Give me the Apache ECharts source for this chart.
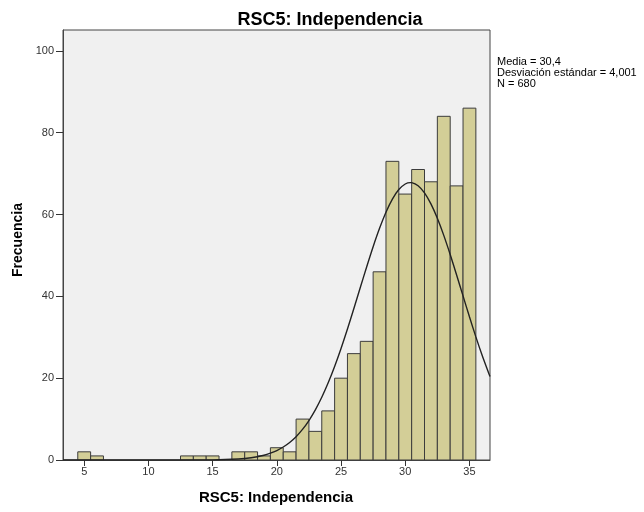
<!DOCTYPE html>
<html><head><meta charset="utf-8">
<script src="https://cdn.jsdelivr.net/npm/echarts@6/dist/echarts.min.js"></script>
<style>html,body{margin:0;padding:0;background:#fff}#c{width:644px;height:512px}</style>
</head><body><div id="c"></div>
<script>
// Histogram bins (centered on integer scores, width 1)
const binCenters = [5, 6, 13, 14, 15, 17, 18, 19, 20, 21, 22, 23, 24, 25, 26, 27, 28, 29, 30, 31, 32, 33, 34, 35];
const frequencies = [2, 1, 1, 1, 1, 2, 2, 1, 3, 2, 10, 7, 12, 20, 26, 29, 46, 73, 65, 71, 68, 84, 67, 86];
// Normal curve points
const curveX = [3.35, 10, 15, 17, 18, 19, 19.5, 20, 20.5, 21, 21.5, 22, 22.5, 23, 23.5, 24, 24.5, 25, 25.5, 26, 26.5, 27, 27.5, 28, 28.5, 29, 29.5, 30, 30.4, 30.5, 31, 31.5, 32, 32.5, 33, 33.5, 34, 34.5, 35, 35.5, 36, 36.5, 36.6];
const curveY = [0, 0, 0.04, 0.25, 0.56, 1.17, 1.66, 2.31, 3.17, 4.29, 5.71, 7.48, 9.65, 12.26, 15.32, 18.86, 22.86, 27.27, 32.03, 37.03, 42.16, 47.25, 52.14, 56.63, 60.57, 63.77, 66.10, 67.46, 67.8, 67.78, 67.04, 65.29, 62.59, 59.07, 54.90, 50.22, 45.23, 40.11, 35.01, 30.09, 25.46, 21.21, 20.41];
const xTicks = [5, 10, 15, 20, 25, 30, 35];
const yTicks = [0, 20, 40, 60, 80, 100];
const titleText = 'RSC5: Independencia';
const xName = 'RSC5: Independencia';
const yName = 'Frecuencia';
const statsLines = ['Media = 30,4', 'Desviación estándar = 4,001', 'N = 680'];

const chart = echarts.init(document.getElementById('c'), null, {renderer: 'canvas'});
const font = 'Liberation Sans, Arial, sans-serif';
chart.setOption({
  animation: false,
  backgroundColor: '#ffffff',
  title: {
    text: titleText, left: 325, top: 6, textAlign: 'center',
    textStyle: {fontFamily: font, fontSize: 18, fontWeight: 'bold', color: '#000'}
  },
  graphic: [{
    type: 'text', left: 497, top: 56,
    style: {text: statsLines.join('\n'), fontFamily: font, fontSize: 11, lineHeight: 11, fill: '#000'}
  }, {
    type: 'text', x: 276, y: 498,
    style: {text: xName, fontFamily: font, fontSize: 15, fontWeight: 'bold', fill: '#000', align: 'center', verticalAlign: 'middle'}
  }, {
    type: 'text', x: 18, y: 240, rotation: Math.PI / 2,
    style: {text: yName, fontFamily: font, fontSize: 14, fontWeight: 'bold', fill: '#000', align: 'center', verticalAlign: 'middle'}
  }],
  grid: {left: 63, top: 30, right: 154, bottom: 52, show: true, backgroundColor: '#F0F0F0', borderColor: '#444', borderWidth: 1},
  xAxis: {
    type: 'value', min: 3.35, max: 36.6,
    splitLine: {show: false},
    axisLine: {show: true, lineStyle: {color: '#444', width: 1}, onZero: false},
    axisTick: {show: true, inside: false, customValues: xTicks, length: 6, lineStyle: {color: '#333'}},
    axisLabel: {customValues: xTicks, fontFamily: font, fontSize: 11, color: '#333', margin: 6}
  },
  yAxis: {
    type: 'value', min: 0, max: 105.1,
    splitLine: {show: false},
    axisLine: {show: true, lineStyle: {color: '#444', width: 1}},
    axisTick: {show: true, inside: false, customValues: yTicks, length: 7, lineStyle: {color: '#333'}},
    axisLabel: {customValues: yTicks, fontFamily: font, fontSize: 11, color: '#333', margin: 9}
  },
  series: [{
    type: 'custom',
    data: binCenters.map((c, i) => [c, frequencies[i]]),
    renderItem: function (params, api) {
      const c = api.value(0), v = api.value(1);
      const p0 = api.coord([c - 0.5, v]);
      const p1 = api.coord([c + 0.5, 0]);
      return {
        type: 'rect',
        shape: {x: p0[0], y: p0[1], width: p1[0] - p0[0], height: p1[1] - p0[1]},
        style: {fill: '#D3CE97', stroke: '#3C3C3C', lineWidth: 1}
      };
    },
    z: 2
  }, {
    type: 'line',
    data: curveX.map((x, i) => [x, curveY[i]]),
    smooth: 0.3, symbol: 'none',
    lineStyle: {color: '#222', width: 1.4},
    z: 3
  }]
});
</script></body></html>
